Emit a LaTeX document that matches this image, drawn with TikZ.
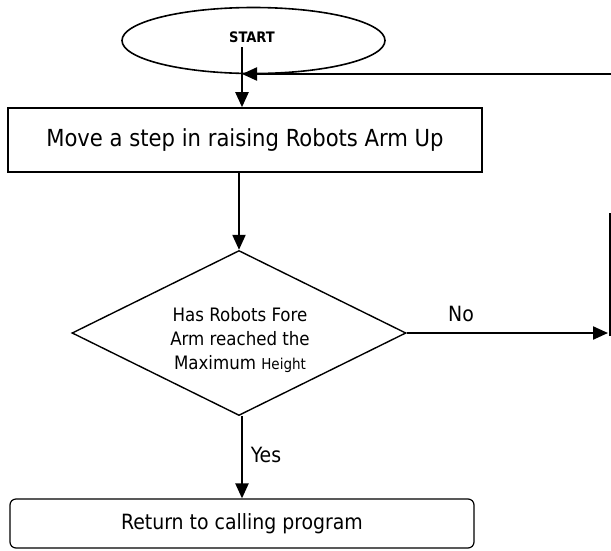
\documentclass[tikz,border=0pt]{standalone}
\usepackage{fontspec}
\setmainfont{DejaVu Sans Condensed}
\usetikzlibrary{shapes.geometric,arrows.meta}
\tikzset{
  flowline/.style={line width=2.2pt},
  flowarrow/.style={flowline,-{Triangle[length=15pt,width=13pt]}},
  procbox/.style={draw,line width=1.6pt,inner sep=0pt},
}
\begin{document}
\begin{tikzpicture}[x=1pt,y=-1pt]
\useasboundingbox (0,0) rectangle (611,550);
% terminal
\node[ellipse,draw,line width=1.6pt,minimum width=263pt,minimum height=66pt,inner sep=0pt] (start) at (253.5,40.5) {};
\node[font=\fontsize{14.5}{16}\selectfont\bfseries] (starttext) at (252,37) {START};
% process step
\node[procbox,minimum width=474pt,minimum height=64pt,font=\fontsize{23.5}{26}\selectfont] (move) at (245,140) {Move a step in raising Robots Arm Up};
% decision
\node[diamond,draw,line width=1.4pt,minimum width=334pt,minimum height=165pt,inner sep=0pt] (dec) at (239,333) {};
\node[align=center,font=\fontsize{18.5}{24}\selectfont] (dectext) at (240,340) {Has Robots Fore\\Arm reached the\\Maximum {\fontsize{15}{24}\selectfont Height}};
% exit
\node[draw,rounded corners=6pt,line width=1.2pt,minimum width=464pt,minimum height=49pt,inner sep=0pt,font=\fontsize{21}{24}\selectfont] (ret) at (242,523.5) {Return to calling program};
% connector points
\coordinate (s1) at (242,47);
\coordinate (noend) at (608,335);
\coordinate (loopbot) at (610,336);
\coordinate (looptop) at (610,213);
\coordinate (loopin) at (611,74);
% connectors
\draw[flowarrow] (s1) -- (s1 |- move.north);
\draw[flowarrow] (loopin) -- (s1 |- loopin);
\draw[flowarrow] (dec.north |- move.south) -- (dec.north);
\draw[flowarrow] (dec.east) -- (dec.east -| noend);
\draw[line width=1.2pt] (loopbot) -- (looptop);
\draw[flowarrow] (dec.south -| s1) -- (s1 |- ret.north);
% branch labels
\node[font=\fontsize{21}{24}\selectfont] (nolabel) at (461,314) {No};
\node[font=\fontsize{21}{24}\selectfont] (yeslabel) at (266,455) {Yes};
\end{tikzpicture}
\end{document}
